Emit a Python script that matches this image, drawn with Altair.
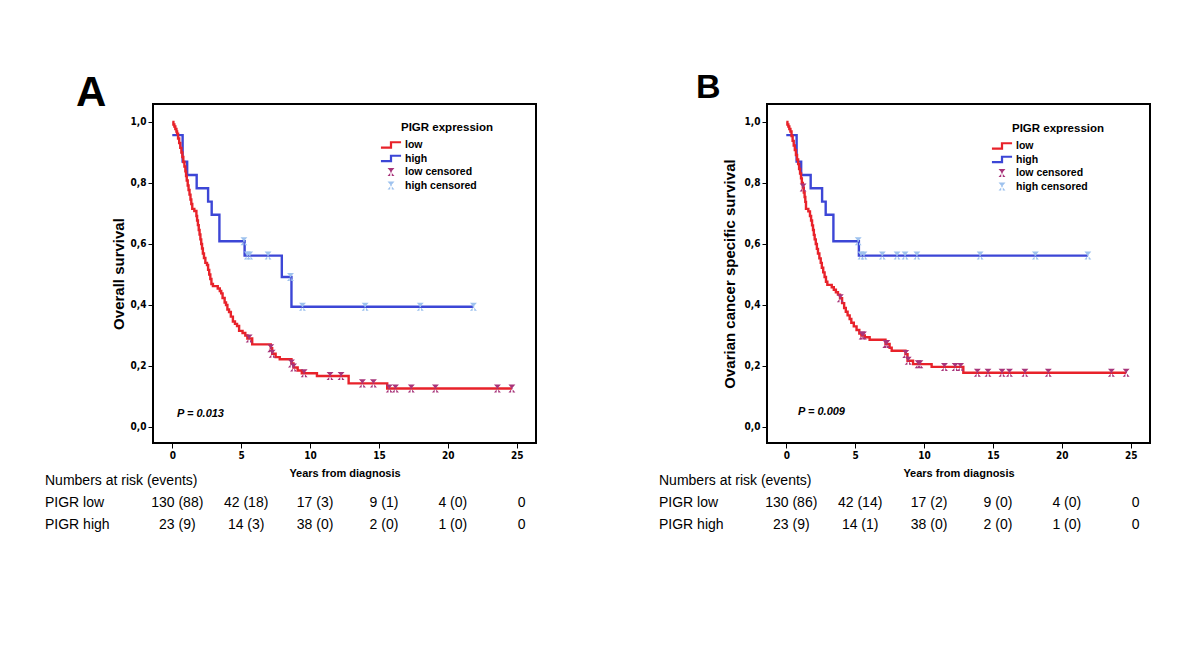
import altair as alt
import pandas as pd

# ---------------- data ----------------
A_low_t = [0, 0.08, 0.15, 0.22, 0.3, 0.35, 0.42, 0.5, 0.58, 0.66, 0.73, 0.8, 0.88, 0.95, 1.0, 1.05, 1.12, 1.18, 1.25, 1.32,
           1.38, 1.45, 1.6, 1.75, 1.8, 1.86, 1.92, 1.98, 2.04, 2.1, 2.16, 2.22, 2.3, 2.4, 2.52, 2.6, 2.68, 2.76, 2.84, 2.95,
           3.3, 3.45, 3.55, 3.65, 3.8, 3.9, 4.0, 4.12, 4.25, 4.4, 4.55, 4.7, 4.85, 5.1, 5.3, 5.45, 5.8, 7.15, 7.25, 7.5,
           7.8, 8.65, 8.8, 9.1, 9.4, 10.5, 12.8, 15.6, 24.65]
A_low_s = [1.0, 0.992, 0.985, 0.977, 0.969, 0.962, 0.946, 0.931, 0.915, 0.9, 0.885, 0.869, 0.854, 0.838, 0.823, 0.808, 0.792,
           0.777, 0.762, 0.746, 0.731, 0.715, 0.708, 0.692, 0.677, 0.662, 0.646, 0.631, 0.615, 0.6, 0.585, 0.569, 0.554,
           0.538, 0.531, 0.515, 0.5, 0.485, 0.469, 0.462, 0.454, 0.446, 0.438, 0.423, 0.408, 0.4, 0.385, 0.377, 0.362,
           0.346, 0.338, 0.331, 0.315, 0.308, 0.3, 0.29, 0.271, 0.258, 0.24, 0.229, 0.222, 0.208, 0.195, 0.185, 0.176,
           0.167, 0.143, 0.126, 0.126]
A_low_cens = [5.58, 7.15, 7.25, 8.65, 8.8, 9.57, 11.45, 12.25, 13.8, 14.6, 15.75, 16.2, 17.35, 19.1, 23.6, 24.65]

A_high_t = [0, 0.75, 1.08, 1.77, 2.6, 2.86, 3.42, 5.25, 7.95, 8.65, 21.86]
A_high_s = [0.957, 0.870, 0.826, 0.783, 0.739, 0.696, 0.609, 0.562, 0.492, 0.394, 0.394]
A_high_cens = [5.2, 5.45, 5.62, 6.95, 8.58, 9.45, 14.0, 18.0, 21.86]

B_low_t = [0, 0.08, 0.15, 0.22, 0.3, 0.38, 0.46, 0.54, 0.62, 0.7, 0.78, 0.86, 0.93, 1.0, 1.07, 1.13, 1.2, 1.27, 1.33, 1.38,
           1.43, 1.6, 1.72, 1.8, 1.87, 1.94, 2.0, 2.06, 2.14, 2.22, 2.3, 2.4, 2.5, 2.58, 2.68, 2.78, 2.88, 2.98, 3.3, 3.45,
           3.6, 3.75, 3.9, 4.05, 4.2, 4.32, 4.45, 4.6, 4.72, 4.9, 5.1, 5.3, 5.45, 5.7, 6.05, 7.2, 7.5, 7.65, 8.65, 8.8,
           9.2, 10.55, 12.85, 24.67]
B_low_s = [1.0, 0.992, 0.985, 0.977, 0.969, 0.954, 0.938, 0.923, 0.908, 0.892, 0.877, 0.862, 0.846, 0.831, 0.815, 0.8, 0.785,
           0.769, 0.754, 0.738, 0.715, 0.707, 0.692, 0.677, 0.661, 0.646, 0.63, 0.615, 0.6, 0.584, 0.569, 0.553, 0.538,
           0.522, 0.507, 0.492, 0.476, 0.466, 0.458, 0.45, 0.442, 0.434, 0.422, 0.406, 0.39, 0.378, 0.366, 0.354, 0.342,
           0.33, 0.318, 0.306, 0.3, 0.294, 0.286, 0.272, 0.26, 0.25, 0.239, 0.217, 0.206, 0.197, 0.178, 0.178]
B_low_cens = [1.22, 3.92, 5.5, 5.6, 7.22, 7.3, 8.67, 8.85, 9.57, 9.7, 11.48, 12.26, 12.65, 13.87, 14.64, 15.66, 16.2,
              17.32, 19.02, 23.6, 24.67]

B_high_t = [0, 0.75, 1.08, 1.77, 2.6, 2.86, 3.42, 5.27, 21.89]
B_high_s = [0.957, 0.870, 0.826, 0.783, 0.739, 0.696, 0.609, 0.562, 0.562]
B_high_cens = [5.22, 5.42, 5.64, 6.97, 8.04, 8.62, 9.48, 14.07, 18.08, 21.89]

risk_times = [0, 5, 10, 15, 20, 25]
A_risk_low = ["130 (88)", "42 (18)", "17 (3)", "9 (1)", "4 (0)", "0"]
A_risk_high = ["23 (9)", "14 (3)", "38 (0)", "2 (0)", "1 (0)", "0"]
B_risk_low = ["130 (86)", "42 (14)", "17 (2)", "9 (0)", "4 (0)", "0"]
B_risk_high = ["23 (9)", "14 (1)", "38 (0)", "2 (0)", "1 (0)", "0"]

series_names = ["low", "high", "low censored", "high censored"]
x_ticks = [0, 5, 10, 15, 20, 25]
y_ticks = [0.0, 0.2, 0.4, 0.6, 0.8, 1.0]

# ---------------- styling ----------------
RED = "#e8222a"
BLUE = "#3c46d6"
PURPLE = "#a8347a"
LIGHTBLUE = "#9ec2ee"
FONT = "Liberation Sans, Arial, sans-serif"
NARROW = "'Liberation Sans Narrow', 'DejaVu Sans Condensed', 'Liberation Sans', sans-serif"
STEP = "M-1.8,0.65L0.2,0.65L0.2,-0.3L1.8,-0.3L1.8,-0.68L-0.2,-0.68L-0.2,0.27L-1.8,0.27Z"
HOUR = "M-0.62,-0.72L0.62,-0.72L-0.62,0.72L0.62,0.72Z M-0.14,-0.72L0.14,-0.72L0.14,0.72L-0.14,0.72Z"
SYM = 125

W, H = 383, 339


def surv_at(ts, ss, t):
    val = ss[0]
    for ti, si in zip(ts, ss):
        if ti <= t:
            val = si
    return val


def panel(letter, letter_size, letter_dx, letter_dy, ytitle, ytitle_pad, low_t, low_s, low_c, high_t, high_s, high_c,
          risk_low, risk_high, ptext, p_dx, p_dy, leg_x, leg_y):
    low_df = pd.DataFrame({"t": low_t, "s": low_s})
    high_df = pd.DataFrame({"t": high_t, "s": high_s})
    cens = pd.DataFrame(
        [{"t": t, "s": surv_at(low_t, low_s, t), "series": "low censored"} for t in low_c]
        + [{"t": t, "s": surv_at(high_t, high_s, t), "series": "high censored"} for t in high_c]
    )
    xenc = alt.X("t:Q", scale=alt.Scale(domain=[-1.4, 26.4], nice=False, zero=False),
                 axis=alt.Axis(values=x_ticks, title="Years from diagnosis", titlePadding=7,
                               titleFontSize=11, titleFontWeight="bold", titleFont=FONT))
    yenc = alt.Y("s:Q", scale=alt.Scale(domain=[-0.0525, 1.059], nice=False, zero=False),
                 axis=alt.Axis(values=y_ticks, title=ytitle, titlePadding=ytitle_pad, titleFontSize=15,
                               titleFontWeight="bold", titleFont=FONT,
                               labelExpr="replace(format(datum.value, '.1f'), '.', ',')"))
    high_line = alt.Chart(high_df).mark_line(interpolate="step-after", color=BLUE, strokeWidth=2.4).encode(x=xenc, y=yenc)
    low_line = alt.Chart(low_df).mark_line(interpolate="step-after", color=RED, strokeWidth=2.4).encode(x=xenc, y=yenc)

    leg = alt.Legend(orient="none", legendX=leg_x, legendY=leg_y, title=None, labelFont=FONT, labelFontSize=10.5,
                     labelFontWeight="bold", labelColor="black", symbolSize=SYM, labelOffset=8, rowPadding=1.5,
                     padding=0, symbolStrokeWidth=0, symbolOpacity=1)
    points = alt.Chart(cens).mark_point(filled=True, opacity=1, size=SYM, strokeWidth=0).encode(
        x=xenc, y=yenc,
        color=alt.Color("series:N", scale=alt.Scale(domain=series_names, range=[RED, BLUE, PURPLE, LIGHTBLUE]),
                        legend=leg),
        shape=alt.Shape("series:N", scale=alt.Scale(domain=series_names, range=[STEP, STEP, HOUR, HOUR]),
                        legend=leg),
    )
    one = pd.DataFrame({"k": [0]})
    leg_title = alt.Chart(one).mark_text(text="PIGR expression", font=FONT, fontSize=11.5, fontWeight="bold",
                                         align="left", baseline="middle").encode(
        x=alt.value(leg_x + 16), y=alt.value(leg_y - 11))
    ptxt = alt.Chart(one).mark_text(text=ptext, font=FONT, fontSize=11, fontWeight="bold", fontStyle="italic",
                                    align="left", baseline="middle").encode(x=alt.value(p_dx), y=alt.value(p_dy))
    big = alt.Chart(one).mark_text(text=letter, font=FONT, fontSize=letter_size, fontWeight="bold",
                                   align="left", baseline="alphabetic").encode(x=alt.value(letter_dx),
                                                                              y=alt.value(letter_dy))
    head = alt.Chart(one).mark_text(text="Numbers at risk (events)", font=FONT, fontSize=14, align="left",
                                    baseline="middle").encode(x=alt.value(-108), y=alt.value(H + 38))
    lab_low = alt.Chart(one).mark_text(text="PIGR low", font=FONT, fontSize=14, align="left",
                                       baseline="middle").encode(x=alt.value(-108), y=alt.value(H + 60))
    lab_high = alt.Chart(one).mark_text(text="PIGR high", font=FONT, fontSize=14, align="left",
                                        baseline="middle").encode(x=alt.value(-108), y=alt.value(H + 82))
    rl = alt.Chart(pd.DataFrame({"t": risk_times, "lab": risk_low})).mark_text(
        font=FONT, fontSize=14, align="center", baseline="middle", dx=5).encode(
        x=xenc, y=alt.value(H + 60), text="lab:N")
    rh = alt.Chart(pd.DataFrame({"t": risk_times, "lab": risk_high})).mark_text(
        font=FONT, fontSize=14, align="center", baseline="middle", dx=5).encode(
        x=xenc, y=alt.value(H + 82), text="lab:N")
    return alt.layer(high_line, low_line, points, leg_title, ptxt, big, head, lab_low, lab_high, rl, rh).properties(
        width=W, height=H)


pA = panel("A", 42, -77, 2, "Overall survival", 4, A_low_t, A_low_s, A_low_cens, A_high_t, A_high_s, A_high_cens,
           A_risk_low, A_risk_high, "P = 0.013", 24, 310, 232, 35)
pB = panel("B", 34, -71, -6, "Ovarian cancer specific survival", 7, B_low_t, B_low_s, B_low_cens, B_high_t, B_high_s,
           B_high_cens, B_risk_low, B_risk_high, "P = 0.009", 31, 308, 229, 36)

chart = alt.hconcat(pA, pB, spacing=121).resolve_scale(color="independent", shape="independent").resolve_legend(
    color="independent", shape="independent").properties(
    padding={"left": 36, "top": 62, "right": 5, "bottom": 5}
).configure_view(stroke="black", strokeWidth=2).configure_axis(
    domain=False, grid=False, tickColor="black", tickSize=5, tickWidth=1, labelFont=NARROW, labelFontSize=10,
    labelFontWeight="bold", labelColor="black", labelPadding=2, titleColor="black"
).configure_text(color="black")

chart.save("out.html", embed_options={"renderer": "svg", "actions": False})
